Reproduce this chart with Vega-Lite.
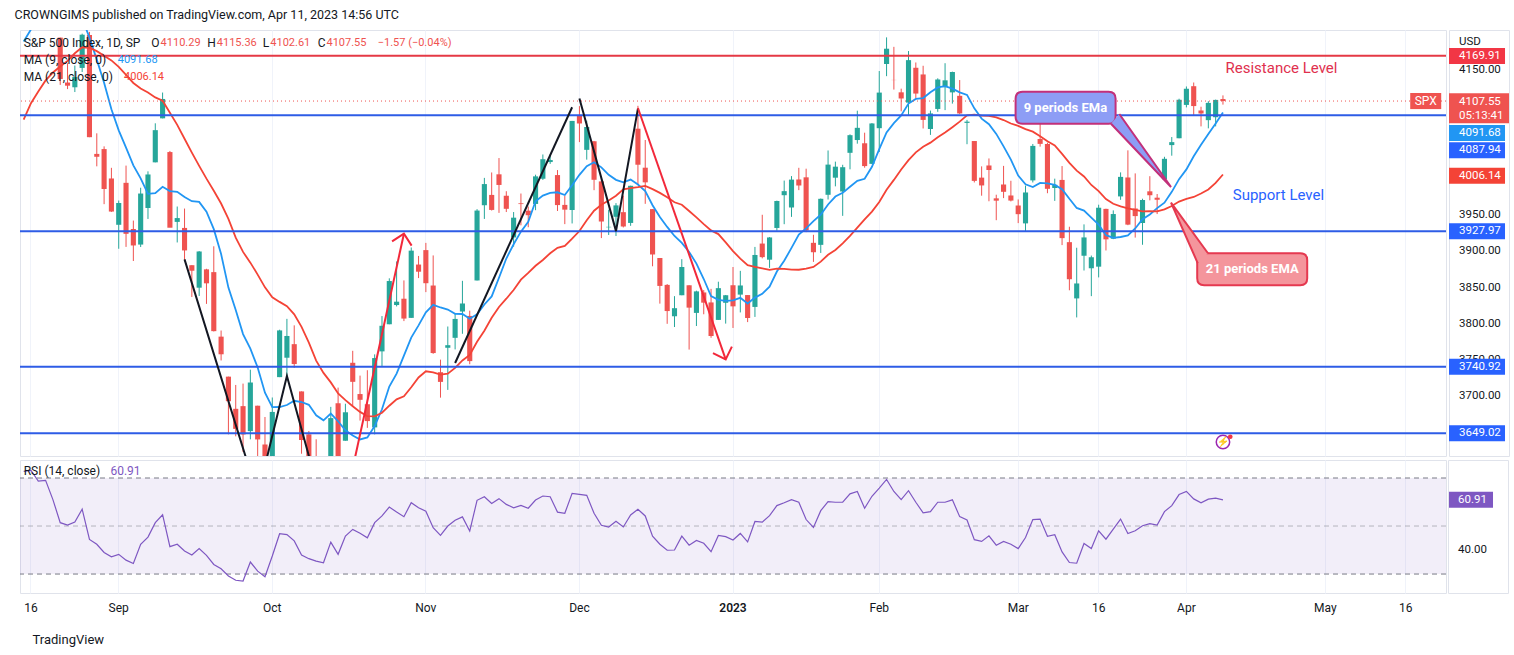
{
  "$schema": "https://vega.github.io/schema/vega-lite/v6.json",
  "title": {"text": "CROWNGIMS published on TradingView.com, Apr 11, 2023 14:56 UTC", "anchor": "start", "fontSize": 12.5, "fontWeight": 400, "color": "#131722", "offset": 8, "dx": -4},
  "padding": {"left": 14, "top": 9, "right": 14, "bottom": 5},
  "config": {
    "font": "Roboto",
    "view": {"stroke": "#e0e3eb", "strokeWidth": 1},
    "axis": {"gridColor": "#f0f3fa", "gridWidth": 1}
  },
  "datasets": {
    "px": [
      {"d":"2022-08-15","o":4269.37,"h":4301.79,"l":4256.9,"c":4297.14,"m9":4189.8,"m21":4082,"r":72.8},
      {"d":"2022-08-16","o":4290.46,"h":4325.28,"l":4277.77,"c":4305.2,"m9":4206.4,"m21":4104.5,"r":73.2},
      {"d":"2022-08-17","o":4280.4,"h":4302.18,"l":4253.08,"c":4274.04,"m9":4220,"m21":4120.6,"r":68.7},
      {"d":"2022-08-18","o":4273.13,"h":4292.53,"l":4261.98,"c":4283.74,"m9":4235.4,"m21":4136,"r":69},
      {"d":"2022-08-19","o":4266.31,"h":4266.31,"l":4218.7,"c":4228.48,"m9":4245.2,"m21":4146.9,"r":61},
      {"d":"2022-08-22","o":4195.08,"h":4195.08,"l":4129.86,"c":4137.99,"m9":4247,"m21":4155.3,"r":51.4},
      {"d":"2022-08-23","o":4133.09,"h":4159.77,"l":4124.03,"c":4128.73,"m9":4238,"m21":4163,"r":50.4},
      {"d":"2022-08-24","o":4126.55,"h":4156.56,"l":4119.97,"c":4140.77,"m9":4230.7,"m21":4173.5,"r":51.7},
      {"d":"2022-08-25","o":4153.26,"h":4200.54,"l":4147.59,"c":4199.12,"m9":4221.7,"m21":4181.8,"r":57},
      {"d":"2022-08-26","o":4198.74,"h":4203.04,"l":4057.66,"c":4057.66,"m9":4195.1,"m21":4181.1,"r":44.4},
      {"d":"2022-08-29","o":4034.58,"h":4062.99,"l":4017.42,"c":4030.61,"m9":4164.7,"m21":4176.4,"r":42.4},
      {"d":"2022-08-30","o":4041.25,"h":4044.98,"l":3965.21,"c":3986.16,"m9":4132.7,"m21":4170.1,"r":39},
      {"d":"2022-08-31","o":4000.67,"h":4015.37,"l":3954.53,"c":3955,"m9":4096.1,"m21":4163.6,"r":37.2},
      {"d":"2022-09-01","o":3936.73,"h":3970.23,"l":3903.65,"c":3966.85,"m9":4067.1,"m21":4154.7,"r":38.2},
      {"d":"2022-09-02","o":3994.66,"h":4018.43,"l":3906.21,"c":3924.26,"m9":4043.3,"m21":4143.8,"r":35.8},
      {"d":"2022-09-06","o":3930.89,"h":3942.55,"l":3886.75,"c":3908.19,"m9":4018.8,"m21":4132.5,"r":34.4},
      {"d":"2022-09-07","o":3909.43,"h":3987.89,"l":3906.03,"c":3979.87,"m9":4000.9,"m21":4124.9,"r":42.4},
      {"d":"2022-09-08","o":3959.94,"h":4010.5,"l":3944.81,"c":4006.18,"m9":3979.4,"m21":4119.4,"r":45.4},
      {"d":"2022-09-09","o":4022.94,"h":4076.81,"l":4022.94,"c":4067.36,"m9":3980.4,"m21":4112.6,"r":51.4},
      {"d":"2022-09-12","o":4083.67,"h":4119.28,"l":4083.67,"c":4110.41,"m9":3989.2,"m21":4108,"r":54.7},
      {"d":"2022-09-13","o":4037.12,"h":4038.63,"l":3933.46,"c":3932.69,"m9":3983.3,"m21":4091.4,"r":41.4},
      {"d":"2022-09-14","o":3940.73,"h":3961.94,"l":3912.35,"c":3946.01,"m9":3982.3,"m21":4074.7,"r":42.4},
      {"d":"2022-09-15","o":3932.41,"h":3959.14,"l":3888.28,"c":3901.35,"m9":3975,"m21":4055.5,"r":39.6},
      {"d":"2022-09-16","o":3880.95,"h":3880.95,"l":3837.08,"c":3873.33,"m9":3969.3,"m21":4036.4,"r":37.9},
      {"d":"2022-09-19","o":3849.91,"h":3900.45,"l":3838.5,"c":3899.89,"m9":3968.4,"m21":4018.1,"r":40.6},
      {"d":"2022-09-20","o":3875.23,"h":3876.01,"l":3827.54,"c":3855.93,"m9":3954.7,"m21":4000.4,"r":37.8},
      {"d":"2022-09-21","o":3871.4,"h":3907.07,"l":3789.49,"c":3789.93,"m9":3930.7,"m21":3983.8,"r":34},
      {"d":"2022-09-22","o":3782.36,"h":3790.8,"l":3749.45,"c":3757.99,"m9":3896.3,"m21":3966.1,"r":32.2},
      {"d":"2022-09-23","o":3727.14,"h":3727.14,"l":3647.47,"c":3693.23,"m9":3850,"m21":3944.8,"r":29.2},
      {"d":"2022-09-26","o":3682.72,"h":3715.67,"l":3644.76,"c":3655.04,"m9":3819.1,"m21":3919,"r":27.4},
      {"d":"2022-09-27","o":3686.44,"h":3717.53,"l":3623.29,"c":3647.29,"m9":3785.9,"m21":3899.3,"r":27.1},
      {"d":"2022-09-28","o":3651.94,"h":3736.74,"l":3640.61,"c":3719.04,"m9":3765.7,"m21":3884.5,"r":35},
      {"d":"2022-09-29","o":3687.01,"h":3687.01,"l":3610.4,"c":3640.47,"m9":3739.8,"m21":3868,"r":31.2},
      {"d":"2022-09-30","o":3633.48,"h":3671.44,"l":3584.13,"c":3585.62,"m9":3704.9,"m21":3850.4,"r":28.9},
      {"d":"2022-10-03","o":3609.78,"h":3698.35,"l":3604.93,"c":3678.43,"m9":3685.1,"m21":3836.7,"r":37.5},
      {"d":"2022-10-04","o":3726.46,"h":3791.92,"l":3726.46,"c":3790.93,"m9":3685.2,"m21":3830.3,"r":46.8},
      {"d":"2022-10-05","o":3753.25,"h":3806.91,"l":3722.66,"c":3783.28,"m9":3688,"m21":3824.4,"r":46.4},
      {"d":"2022-10-06","o":3771.97,"h":3797.93,"l":3739.22,"c":3744.52,"m9":3693.8,"m21":3813.2,"r":43.8},
      {"d":"2022-10-07","o":3706.74,"h":3706.74,"l":3620.73,"c":3639.66,"m9":3692.1,"m21":3795.8,"r":37.9},
      {"d":"2022-10-10","o":3647.51,"h":3652.17,"l":3588.1,"c":3612.39,"m9":3688.2,"m21":3774.1,"r":36.4},
      {"d":"2022-10-11","o":3595.86,"h":3640.66,"l":3568.45,"c":3588.84,"m9":3673.8,"m21":3749.3,"r":35.4},
      {"d":"2022-10-12","o":3590.83,"h":3608.34,"l":3573.86,"c":3577.03,"m9":3666.8,"m21":3732.3,"r":34.7},
      {"d":"2022-10-13","o":3520.37,"h":3685.41,"l":3491.58,"c":3669.91,"m9":3676.1,"m21":3719.2,"r":43.3},
      {"d":"2022-10-14","o":3690.41,"h":3712,"l":3579.68,"c":3583.07,"m9":3665.6,"m21":3704,"r":38.2},
      {"d":"2022-10-17","o":3638.65,"h":3689.73,"l":3638.65,"c":3677.95,"m9":3653,"m21":3694.8,"r":45.8},
      {"d":"2022-10-18","o":3746.26,"h":3762.79,"l":3686.53,"c":3719.98,"m9":3646,"m21":3686.2,"r":48.6},
      {"d":"2022-10-19","o":3703.11,"h":3728.58,"l":3666.51,"c":3695.16,"m9":3640.4,"m21":3678.5,"r":47},
      {"d":"2022-10-20","o":3689.05,"h":3736,"l":3656.44,"c":3665.78,"m9":3643.3,"m21":3672.6,"r":45.1},
      {"d":"2022-10-21","o":3657.1,"h":3757.89,"l":3647.42,"c":3752.75,"m9":3659,"m21":3672.4,"r":51.4},
      {"d":"2022-10-24","o":3762.01,"h":3810.74,"l":3741.65,"c":3797.34,"m9":3682.1,"m21":3677.3,"r":54.2},
      {"d":"2022-10-25","o":3799.44,"h":3862.85,"l":3799.44,"c":3859.11,"m9":3713.4,"m21":3687,"r":57.9},
      {"d":"2022-10-26","o":3825.97,"h":3886.15,"l":3824.07,"c":3830.6,"m9":3731.3,"m21":3695.8,"r":55.8},
      {"d":"2022-10-27","o":3834.69,"h":3859.95,"l":3803.79,"c":3807.3,"m9":3756.2,"m21":3700,"r":53.9},
      {"d":"2022-10-28","o":3808.26,"h":3905.42,"l":3808.26,"c":3901.06,"m9":3781,"m21":3712.4,"r":59.7},
      {"d":"2022-10-31","o":3881.85,"h":3893.73,"l":3863.18,"c":3871.98,"m9":3797.9,"m21":3726,"r":57.6},
      {"d":"2022-11-01","o":3901.79,"h":3911.79,"l":3843.8,"c":3856.1,"m9":3815.8,"m21":3734.5,"r":56.2},
      {"d":"2022-11-02","o":3852.9,"h":3894.44,"l":3758.68,"c":3759.69,"m9":3826.2,"m21":3733,"r":49.3},
      {"d":"2022-11-03","o":3733.25,"h":3750.59,"l":3698.15,"c":3719.89,"m9":3822.6,"m21":3730,"r":46.1},
      {"d":"2022-11-04","o":3766.98,"h":3796.34,"l":3708.84,"c":3770.55,"m9":3819.7,"m21":3731.3,"r":50},
      {"d":"2022-11-07","o":3780.71,"h":3813.95,"l":3764.7,"c":3806.8,"m9":3813.9,"m21":3739.2,"r":52.4},
      {"d":"2022-11-08","o":3817.02,"h":3859.4,"l":3786.28,"c":3828.11,"m9":3813.6,"m21":3749.5,"r":53.8},
      {"d":"2022-11-09","o":3810.94,"h":3818.2,"l":3744.22,"c":3748.57,"m9":3807.1,"m21":3757.1,"r":47.9},
      {"d":"2022-11-10","o":3859.89,"h":3958.33,"l":3859.89,"c":3956.37,"m9":3813.2,"m21":3775.2,"r":60.7},
      {"d":"2022-11-11","o":3963.72,"h":4001.48,"l":3944.82,"c":3992.93,"m9":3826.7,"m21":3790.6,"r":62.2},
      {"d":"2022-11-14","o":3977.97,"h":4008.97,"l":3956.4,"c":3957.25,"m9":3837.9,"m21":3808.4,"r":59.4},
      {"d":"2022-11-15","o":4006.41,"h":4028.84,"l":3953.17,"c":3991.73,"m9":3863.7,"m21":3823.3,"r":61.4},
      {"d":"2022-11-16","o":3976.82,"h":3983.09,"l":3954.34,"c":3958.79,"m9":3890.2,"m21":3834.7,"r":59},
      {"d":"2022-11-17","o":3919.26,"h":3954.33,"l":3906.54,"c":3946.56,"m9":3909.8,"m21":3846.7,"r":57.6},
      {"d":"2022-11-18","o":3966.39,"h":3979.89,"l":3935.98,"c":3965.34,"m9":3927.3,"m21":3861,"r":58.6},
      {"d":"2022-11-21","o":3956.23,"h":3962,"l":3933.34,"c":3949.94,"m9":3940.9,"m21":3870.3,"r":57.4},
      {"d":"2022-11-22","o":3965.51,"h":4005.88,"l":3956.88,"c":4003.58,"m9":3969.2,"m21":3880.2,"r":60.8},
      {"d":"2022-11-23","o":4000.3,"h":4033.78,"l":3998.66,"c":4027.26,"m9":3977.1,"m21":3888.2,"r":62.5},
      {"d":"2022-11-25","o":4023.34,"h":4034.02,"l":4020.76,"c":4026.12,"m9":3980.8,"m21":3897.5,"r":62.2},
      {"d":"2022-11-28","o":4005.36,"h":4012.27,"l":3955.77,"c":3963.94,"m9":3981.6,"m21":3905,"r":55.8},
      {"d":"2022-11-29","o":3964.19,"h":3976.77,"l":3937.65,"c":3957.63,"m9":3977.8,"m21":3907.7,"r":55.3},
      {"d":"2022-11-30","o":3957.18,"h":4080.11,"l":3938.58,"c":4080.11,"m9":3991.2,"m21":3917.6,"r":63.6},
      {"d":"2022-12-01","o":4087.14,"h":4100.51,"l":4050.87,"c":4076.57,"m9":4005.7,"m21":3928.1,"r":63.2},
      {"d":"2022-12-02","o":4040.17,"h":4080.48,"l":4026.63,"c":4071.7,"m9":4017.6,"m21":3943,"r":62.8},
      {"d":"2022-12-05","o":4052.02,"h":4052.45,"l":3984.49,"c":3998.84,"m9":4023,"m21":3956.2,"r":55.3},
      {"d":"2022-12-06","o":3996.63,"h":4001.51,"l":3918.39,"c":3941.26,"m9":4016,"m21":3964.3,"r":50.3},
      {"d":"2022-12-07","o":3933.28,"h":3957.57,"l":3922.68,"c":3933.92,"m9":4005.7,"m21":3970.4,"r":49.6},
      {"d":"2022-12-08","o":3947.79,"h":3966.64,"l":3921.27,"c":3963.51,"m9":3998.8,"m21":3976.9,"r":52},
      {"d":"2022-12-09","o":3954.17,"h":3977.02,"l":3933.04,"c":3934.38,"m9":3995.4,"m21":3985.7,"r":49.6},
      {"d":"2022-12-12","o":3939.29,"h":3990.71,"l":3935.3,"c":3990.56,"m9":3999.1,"m21":3987.3,"r":54.6},
      {"d":"2022-12-13","o":4069.38,"h":4100.96,"l":3993.03,"c":4019.65,"m9":3992.4,"m21":3988.6,"r":57},
      {"d":"2022-12-14","o":4015.54,"h":4053.76,"l":3965.65,"c":3995.32,"m9":3983.3,"m21":3990.4,"r":54.2},
      {"d":"2022-12-15","o":3958.37,"h":3958.37,"l":3879.45,"c":3895.75,"m9":3963.8,"m21":3985.9,"r":45.8},
      {"d":"2022-12-16","o":3890.91,"h":3890.91,"l":3827.91,"c":3852.36,"m9":3947.4,"m21":3980.8,"r":42.4},
      {"d":"2022-12-19","o":3853.79,"h":3854.86,"l":3800.04,"c":3817.66,"m9":3933.8,"m21":3974.6,"r":39.9},
      {"d":"2022-12-20","o":3810.47,"h":3838.24,"l":3795.62,"c":3821.62,"m9":3921.3,"m21":3967.8,"r":40},
      {"d":"2022-12-21","o":3839.49,"h":3889.28,"l":3839.49,"c":3878.44,"m9":3911.8,"m21":3964.4,"r":45.8},
      {"d":"2022-12-22","o":3853.26,"h":3853.26,"l":3764.49,"c":3822.39,"m9":3899.3,"m21":3955.7,"r":42},
      {"d":"2022-12-23","o":3815.11,"h":3845.8,"l":3797.01,"c":3844.82,"m9":3883.1,"m21":3947,"r":44},
      {"d":"2022-12-27","o":3843.34,"h":3846.65,"l":3813.22,"c":3829.25,"m9":3861.9,"m21":3937.7,"r":42.8},
      {"d":"2022-12-28","o":3829.56,"h":3848.32,"l":3780.78,"c":3783.22,"m9":3838.3,"m21":3929,"r":39.3},
      {"d":"2022-12-29","o":3805.45,"h":3858.19,"l":3805.45,"c":3849.28,"m9":3833.1,"m21":3923.9,"r":46.1},
      {"d":"2022-12-30","o":3829.06,"h":3839.85,"l":3800.34,"c":3839.5,"m9":3831.8,"m21":3912.4,"r":45.6},
      {"d":"2023-01-03","o":3853.29,"h":3878.46,"l":3794.33,"c":3824.14,"m9":3832.4,"m21":3900.4,"r":44.2},
      {"d":"2023-01-04","o":3840.36,"h":3873.16,"l":3815.77,"c":3852.97,"m9":3835.9,"m21":3890,"r":46.9},
      {"d":"2023-01-05","o":3839.74,"h":3839.74,"l":3802.42,"c":3808.1,"m9":3828.1,"m21":3880.9,"r":43.4},
      {"d":"2023-01-06","o":3823.37,"h":3906.19,"l":3809.56,"c":3895.08,"m9":3836.2,"m21":3878.7,"r":51.9},
      {"d":"2023-01-09","o":3910.82,"h":3950.57,"l":3890.42,"c":3892.09,"m9":3841.4,"m21":3876.7,"r":51.6},
      {"d":"2023-01-10","o":3888.57,"h":3919.83,"l":3877.29,"c":3919.25,"m9":3851.4,"m21":3874.5,"r":54.3},
      {"d":"2023-01-11","o":3932.35,"h":3970.07,"l":3928.54,"c":3969.61,"m9":3872.2,"m21":3876.2,"r":58.5},
      {"d":"2023-01-12","o":3977.57,"h":3997.76,"l":3937.56,"c":3983.17,"m9":3887.1,"m21":3875.9,"r":59.7},
      {"d":"2023-01-13","o":3960.6,"h":4003.95,"l":3947.67,"c":3999.09,"m9":3904.8,"m21":3874.9,"r":61},
      {"d":"2023-01-17","o":3999.28,"h":4015.39,"l":3984.57,"c":3990.97,"m9":3923.3,"m21":3874.7,"r":59.9},
      {"d":"2023-01-18","o":4002.25,"h":4014.16,"l":3926.59,"c":3928.86,"m9":3931.8,"m21":3876.2,"r":52.7},
      {"d":"2023-01-19","o":3911.84,"h":3922.94,"l":3885.54,"c":3898.85,"m9":3941.9,"m21":3878.5,"r":49.4},
      {"d":"2023-01-20","o":3909.04,"h":3972.96,"l":3897.86,"c":3972.61,"m9":3950.6,"m21":3885.9,"r":56.4},
      {"d":"2023-01-23","o":3978.14,"h":4039.31,"l":3971.64,"c":4019.81,"m9":3964.8,"m21":3895.3,"r":60.2},
      {"d":"2023-01-24","o":4001.74,"h":4023.92,"l":3989.79,"c":4016.95,"m9":3975.7,"m21":3901.9,"r":59.9},
      {"d":"2023-01-25","o":3982.71,"h":4019.55,"l":3949.06,"c":4016.22,"m9":3980.8,"m21":3911.1,"r":59.9},
      {"d":"2023-01-26","o":4036.08,"h":4061.57,"l":4013.29,"c":4060.43,"m9":3989.3,"m21":3921.4,"r":63.4},
      {"d":"2023-01-27","o":4053.72,"h":4094.21,"l":4048.7,"c":4070.56,"m9":3997.3,"m21":3932.9,"r":64.4},
      {"d":"2023-01-30","o":4049.27,"h":4063.85,"l":4015.55,"c":4017.77,"m9":4000.3,"m21":3944.1,"r":57.4},
      {"d":"2023-01-31","o":4020.85,"h":4077.16,"l":4020.44,"c":4076.6,"m9":4016.8,"m21":3955,"r":62.4},
      {"d":"2023-02-01","o":4070.07,"h":4148.95,"l":4037.2,"c":4119.21,"m9":4041.2,"m21":3968.2,"r":65.8},
      {"d":"2023-02-02","o":4158.68,"h":4195.44,"l":4141.88,"c":4179.76,"m9":4064.2,"m21":3985.2,"r":69.4},
      {"d":"2023-02-03","o":4136.69,"h":4182.36,"l":4123.36,"c":4136.48,"m9":4077.1,"m21":3998.7,"r":64.4},
      {"d":"2023-02-06","o":4119.57,"h":4124.63,"l":4093.38,"c":4111.08,"m9":4087.6,"m21":4013.1,"r":61},
      {"d":"2023-02-07","o":4105.35,"h":4176.54,"l":4088.39,"c":4164,"m9":4104,"m21":4025.9,"r":64.7},
      {"d":"2023-02-08","o":4153.47,"h":4160.77,"l":4111.35,"c":4117.86,"m9":4110.4,"m21":4036.7,"r":59.9},
      {"d":"2023-02-09","o":4144.25,"h":4156.23,"l":4069.67,"c":4081.5,"m9":4111.7,"m21":4044.4,"r":55.5},
      {"d":"2023-02-10","o":4068.92,"h":4094.36,"l":4060.79,"c":4090.46,"m9":4119.7,"m21":4050.1,"r":56},
      {"d":"2023-02-13","o":4096.62,"h":4138.9,"l":4092.67,"c":4137.29,"m9":4126.3,"m21":4057.5,"r":59.9},
      {"d":"2023-02-14","o":4126.7,"h":4159.77,"l":4095.01,"c":4136.13,"m9":4128.2,"m21":4064,"r":59.9},
      {"d":"2023-02-15","o":4119.5,"h":4148.11,"l":4103.98,"c":4147.6,"m9":4124.7,"m21":4071.5,"r":60.9},
      {"d":"2023-02-16","o":4114.75,"h":4136.54,"l":4089.49,"c":4090.41,"m9":4119.6,"m21":4079.1,"r":53.9},
      {"d":"2023-02-17","o":4077.39,"h":4081.51,"l":4047.95,"c":4079.09,"m9":4116,"m21":4087.7,"r":52.5},
      {"d":"2023-02-21","o":4052.35,"h":4052.35,"l":3995.19,"c":3997.34,"m9":4097.4,"m21":4088.9,"r":44.3},
      {"d":"2023-02-22","o":4001.83,"h":4017.37,"l":3976.9,"c":3991.05,"m9":4083.3,"m21":4087.5,"r":43.6},
      {"d":"2023-02-23","o":4018.6,"h":4028.3,"l":3969.19,"c":4012.32,"m9":4075.6,"m21":4087.2,"r":45.9},
      {"d":"2023-02-24","o":3973.24,"h":3978.25,"l":3943.08,"c":3970.04,"m9":4062.2,"m21":4085,"r":42},
      {"d":"2023-02-27","o":3992.36,"h":4018.05,"l":3973.55,"c":3982.24,"m9":4045,"m21":4081.3,"r":43.6},
      {"d":"2023-02-28","o":3977.19,"h":3997.5,"l":3968.98,"c":3970.15,"m9":4026.6,"m21":4076.5,"r":42.4},
      {"d":"2023-03-01","o":3963.34,"h":3971.73,"l":3939.05,"c":3951.39,"m9":4004.7,"m21":4073.3,"r":40.6},
      {"d":"2023-03-02","o":3938.68,"h":3990.84,"l":3928.16,"c":3981.35,"m9":3992.6,"m21":4068.8,"r":45.2},
      {"d":"2023-03-03","o":3998.02,"h":4048.29,"l":3995.17,"c":4045.64,"m9":3988.9,"m21":4065.3,"r":52.7},
      {"d":"2023-03-06","o":4055.15,"h":4078.49,"l":4044.61,"c":4048.42,"m9":3994.6,"m21":4059,"r":52.9},
      {"d":"2023-03-07","o":4048.26,"h":4050,"l":3980.31,"c":3986.37,"m9":3994,"m21":4051.9,"r":45.7},
      {"d":"2023-03-08","o":3987.55,"h":4000.41,"l":3969.76,"c":3992.01,"m9":3991.8,"m21":4046.2,"r":46.4},
      {"d":"2023-03-09","o":3998.66,"h":4017.81,"l":3908.7,"c":3918.32,"m9":3986,"m21":4034.5,"r":39.2},
      {"d":"2023-03-10","o":3912.77,"h":3934.05,"l":3846.32,"c":3861.59,"m9":3972.7,"m21":4022.3,"r":34.8},
      {"d":"2023-03-13","o":3835.12,"h":3905.05,"l":3808.86,"c":3855.76,"m9":3960,"m21":4011.5,"r":34.5},
      {"d":"2023-03-14","o":3894.01,"h":3937.29,"l":3873.63,"c":3919.29,"m9":3956.4,"m21":4003.4,"r":42.7},
      {"d":"2023-03-15","o":3876.74,"h":3894.26,"l":3838.24,"c":3891.93,"m9":3946.6,"m21":3991.7,"r":40.6},
      {"d":"2023-03-16","o":3878.93,"h":3964.46,"l":3864.11,"c":3960.28,"m9":3937,"m21":3983.3,"r":48},
      {"d":"2023-03-17","o":3958.69,"h":3958.91,"l":3901.27,"c":3916.64,"m9":3922.4,"m21":3972.3,"r":44.5},
      {"d":"2023-03-20","o":3917.47,"h":3956.62,"l":3916.89,"c":3951.57,"m9":3918.7,"m21":3965.8,"r":48.7},
      {"d":"2023-03-21","o":3975.89,"h":4009.08,"l":3971.19,"c":4002.87,"m9":3919.9,"m21":3962.1,"r":52.9},
      {"d":"2023-03-22","o":4002.04,"h":4039.49,"l":3936.17,"c":3936.97,"m9":3922,"m21":3959.3,"r":46.9},
      {"d":"2023-03-23","o":3959.21,"h":4007.66,"l":3919.05,"c":3948.72,"m9":3931.7,"m21":3957.3,"r":48},
      {"d":"2023-03-24","o":3939.21,"h":3972.74,"l":3909.16,"c":3970.99,"m9":3944.4,"m21":3955.3,"r":50.1},
      {"d":"2023-03-27","o":3982.93,"h":4003.83,"l":3970.49,"c":3977.53,"m9":3951,"m21":3955.7,"r":51},
      {"d":"2023-03-28","o":3974.13,"h":3979.2,"l":3951.53,"c":3971.27,"m9":3959.8,"m21":3955.2,"r":50.4},
      {"d":"2023-03-29","o":3999.53,"h":4030.59,"l":3999.53,"c":4027.81,"m9":3967.3,"m21":3958,"r":56},
      {"d":"2023-03-30","o":4046.74,"h":4057.85,"l":4032.1,"c":4050.83,"m9":3982.2,"m21":3962.7,"r":58.5},
      {"d":"2023-03-31","o":4056.18,"h":4110.75,"l":4056.18,"c":4109.31,"m9":3999.7,"m21":3968.8,"r":63.1},
      {"d":"2023-04-03","o":4102.2,"h":4127.66,"l":4098.79,"c":4124.51,"m9":4013.2,"m21":3972.6,"r":64.4},
      {"d":"2023-04-04","o":4128.03,"h":4133.13,"l":4086.87,"c":4100.6,"m9":4031.4,"m21":3975.1,"r":61.3},
      {"d":"2023-04-05","o":4094.5,"h":4099.69,"l":4072.56,"c":4090.38,"m9":4047.1,"m21":3980,"r":59.7},
      {"d":"2023-04-06","o":4081.15,"h":4107.32,"l":4069.84,"c":4105.02,"m9":4062,"m21":3985.4,"r":61.2},
      {"d":"2023-04-10","o":4085.2,"h":4109.5,"l":4072.55,"c":4109.11,"m9":4076.6,"m21":3994.5,"r":61.6},
      {"d":"2023-04-11","o":4110.29,"h":4115.36,"l":4102.61,"c":4107.55,"m9":4091.68,"m21":4006.14,"r":60.91}
    ]
  },
  "spacing": 2,
  "resolve": {"scale": {"x": "independent", "y": "independent"}},
  "vconcat": [
    {
      "spacing": 0,
      "resolve": {"scale": {"x": "independent", "y": "independent"}},
      "hconcat": [
        {
          "width": 1426,
          "height": 426,
          "layer": [
            {
              "data": {"name": "px"},
              "encoding": {"x": {"field": "d", "type": "ordinal", "scale": {"type": "band", "paddingInner": 0, "paddingOuter": 0, "domain": ["2022-08-15","2022-08-16","2022-08-17","2022-08-18","2022-08-19","2022-08-22","2022-08-23","2022-08-24","2022-08-25","2022-08-26","2022-08-29","2022-08-30","2022-08-31","2022-09-01","2022-09-02","2022-09-06","2022-09-07","2022-09-08","2022-09-09","2022-09-12","2022-09-13","2022-09-14","2022-09-15","2022-09-16","2022-09-19","2022-09-20","2022-09-21","2022-09-22","2022-09-23","2022-09-26","2022-09-27","2022-09-28","2022-09-29","2022-09-30","2022-10-03","2022-10-04","2022-10-05","2022-10-06","2022-10-07","2022-10-10","2022-10-11","2022-10-12","2022-10-13","2022-10-14","2022-10-17","2022-10-18","2022-10-19","2022-10-20","2022-10-21","2022-10-24","2022-10-25","2022-10-26","2022-10-27","2022-10-28","2022-10-31","2022-11-01","2022-11-02","2022-11-03","2022-11-04","2022-11-07","2022-11-08","2022-11-09","2022-11-10","2022-11-11","2022-11-14","2022-11-15","2022-11-16","2022-11-17","2022-11-18","2022-11-21","2022-11-22","2022-11-23","2022-11-25","2022-11-28","2022-11-29","2022-11-30","2022-12-01","2022-12-02","2022-12-05","2022-12-06","2022-12-07","2022-12-08","2022-12-09","2022-12-12","2022-12-13","2022-12-14","2022-12-15","2022-12-16","2022-12-19","2022-12-20","2022-12-21","2022-12-22","2022-12-23","2022-12-27","2022-12-28","2022-12-29","2022-12-30","2023-01-03","2023-01-04","2023-01-05","2023-01-06","2023-01-09","2023-01-10","2023-01-11","2023-01-12","2023-01-13","2023-01-17","2023-01-18","2023-01-19","2023-01-20","2023-01-23","2023-01-24","2023-01-25","2023-01-26","2023-01-27","2023-01-30","2023-01-31","2023-02-01","2023-02-02","2023-02-03","2023-02-06","2023-02-07","2023-02-08","2023-02-09","2023-02-10","2023-02-13","2023-02-14","2023-02-15","2023-02-16","2023-02-17","2023-02-21","2023-02-22","2023-02-23","2023-02-24","2023-02-27","2023-02-28","2023-03-01","2023-03-02","2023-03-03","2023-03-06","2023-03-07","2023-03-08","2023-03-09","2023-03-10","2023-03-13","2023-03-14","2023-03-15","2023-03-16","2023-03-17","2023-03-20","2023-03-21","2023-03-22","2023-03-23","2023-03-24","2023-03-27","2023-03-28","2023-03-29","2023-03-30","2023-03-31","2023-04-03","2023-04-04","2023-04-05","2023-04-06","2023-04-10","2023-04-11","2023-04-12","2023-04-13","2023-04-14","2023-04-17","2023-04-18","2023-04-19","2023-04-20","2023-04-21","2023-04-24","2023-04-25","2023-04-26","2023-04-27","2023-04-28","2023-05-01","2023-05-02","2023-05-03","2023-05-04","2023-05-05","2023-05-08","2023-05-09","2023-05-10","2023-05-11","2023-05-12","2023-05-15","2023-05-16","2023-05-17","2023-05-18","2023-05-19","2023-05-22","2023-05-23"]},
                "axis": {"values": ["2022-08-16","2022-09-01","2022-10-03","2022-11-01","2022-12-01","2023-01-03","2023-02-01","2023-03-01","2023-03-16","2023-04-03","2023-05-01","2023-05-16"], "grid": true, "labels": false, "ticks": false, "domain": false, "title": null, "minExtent": 0, "maxExtent": 0, "bandPosition": 0.5}}},
              "layer": [
                {"mark": {"type": "rule", "clip": true, "strokeWidth": 1},
                 "encoding": {"y": {"field": "l", "type": "quantitative", "scale": {"domain": [3617.6, 4205.6], "nice": false, "zero": false}, "axis": {"values": [3650,3700,3750,3800,3850,3900,3950,4000,4050,4100,4150,4200], "grid": true, "labels": false, "ticks": false, "domain": false, "title": null, "minExtent": 0, "maxExtent": 0}},
                   "y2": {"field": "h"},
                   "color": {"condition": {"test": "datum.c >= datum.o", "value": "#26a69a"}, "value": "#ef5350"}}},
                {"mark": {"type": "bar", "clip": true, "width": {"band": 0.7}},
                 "encoding": {"y": {"field": "o", "type": "quantitative", "scale": {"domain": [3617.6, 4205.6], "nice": false, "zero": false}, "axis": null},
                   "y2": {"field": "c"},
                   "color": {"condition": {"test": "datum.c >= datum.o", "value": "#26a69a"}, "value": "#ef5350"}}},
                {"mark": {"type": "line", "clip": true, "color": "#2196f3", "strokeWidth": 1.8},
                 "encoding": {"y": {"field": "m9", "type": "quantitative", "scale": {"domain": [3617.6, 4205.6], "nice": false, "zero": false}, "axis": null}}},
                {"mark": {"type": "line", "clip": true, "color": "#f44336", "strokeWidth": 1.8},
                 "encoding": {"y": {"field": "m21", "type": "quantitative", "scale": {"domain": [3617.6, 4205.6], "nice": false, "zero": false}, "axis": null}}}
              ]
            },
            {
              "data": {"values": [{"v": 4107.55}]},
              "mark": {"type": "rule", "color": "#ef5350", "strokeWidth": 1, "strokeDash": [1, 3]},
              "encoding": {"y": {"field": "v", "type": "quantitative", "scale": {"domain": [3617.6, 4205.6], "nice": false, "zero": false}, "axis": null}}
            },
            {
              "data": {"values": [{"v": 4169.91}]},
              "mark": {"type": "rule", "color": "#e53945", "strokeWidth": 2},
              "encoding": {"y": {"field": "v", "type": "quantitative", "scale": {"domain": [3617.6, 4205.6], "nice": false, "zero": false}, "axis": null}}
            },
            {
              "data": {"values": [{"v": 4087.94}, {"v": 3927.97}, {"v": 3740.92}, {"v": 3649.02}]},
              "mark": {"type": "rule", "color": "#2e5ce6", "strokeWidth": 2},
              "encoding": {"y": {"field": "v", "type": "quantitative", "scale": {"domain": [3617.6, 4205.6], "nice": false, "zero": false}, "axis": null}}
            },
            {
              "encoding": {"x": {"field": "d", "type": "ordinal", "scale": {"type": "band", "paddingInner": 0, "paddingOuter": 0, "domain": ["2022-08-15","2022-08-16","2022-08-17","2022-08-18","2022-08-19","2022-08-22","2022-08-23","2022-08-24","2022-08-25","2022-08-26","2022-08-29","2022-08-30","2022-08-31","2022-09-01","2022-09-02","2022-09-06","2022-09-07","2022-09-08","2022-09-09","2022-09-12","2022-09-13","2022-09-14","2022-09-15","2022-09-16","2022-09-19","2022-09-20","2022-09-21","2022-09-22","2022-09-23","2022-09-26","2022-09-27","2022-09-28","2022-09-29","2022-09-30","2022-10-03","2022-10-04","2022-10-05","2022-10-06","2022-10-07","2022-10-10","2022-10-11","2022-10-12","2022-10-13","2022-10-14","2022-10-17","2022-10-18","2022-10-19","2022-10-20","2022-10-21","2022-10-24","2022-10-25","2022-10-26","2022-10-27","2022-10-28","2022-10-31","2022-11-01","2022-11-02","2022-11-03","2022-11-04","2022-11-07","2022-11-08","2022-11-09","2022-11-10","2022-11-11","2022-11-14","2022-11-15","2022-11-16","2022-11-17","2022-11-18","2022-11-21","2022-11-22","2022-11-23","2022-11-25","2022-11-28","2022-11-29","2022-11-30","2022-12-01","2022-12-02","2022-12-05","2022-12-06","2022-12-07","2022-12-08","2022-12-09","2022-12-12","2022-12-13","2022-12-14","2022-12-15","2022-12-16","2022-12-19","2022-12-20","2022-12-21","2022-12-22","2022-12-23","2022-12-27","2022-12-28","2022-12-29","2022-12-30","2023-01-03","2023-01-04","2023-01-05","2023-01-06","2023-01-09","2023-01-10","2023-01-11","2023-01-12","2023-01-13","2023-01-17","2023-01-18","2023-01-19","2023-01-20","2023-01-23","2023-01-24","2023-01-25","2023-01-26","2023-01-27","2023-01-30","2023-01-31","2023-02-01","2023-02-02","2023-02-03","2023-02-06","2023-02-07","2023-02-08","2023-02-09","2023-02-10","2023-02-13","2023-02-14","2023-02-15","2023-02-16","2023-02-17","2023-02-21","2023-02-22","2023-02-23","2023-02-24","2023-02-27","2023-02-28","2023-03-01","2023-03-02","2023-03-03","2023-03-06","2023-03-07","2023-03-08","2023-03-09","2023-03-10","2023-03-13","2023-03-14","2023-03-15","2023-03-16","2023-03-17","2023-03-20","2023-03-21","2023-03-22","2023-03-23","2023-03-24","2023-03-27","2023-03-28","2023-03-29","2023-03-30","2023-03-31","2023-04-03","2023-04-04","2023-04-05","2023-04-06","2023-04-10","2023-04-11","2023-04-12","2023-04-13","2023-04-14","2023-04-17","2023-04-18","2023-04-19","2023-04-20","2023-04-21","2023-04-24","2023-04-25","2023-04-26","2023-04-27","2023-04-28","2023-05-01","2023-05-02","2023-05-03","2023-05-04","2023-05-05","2023-05-08","2023-05-09","2023-05-10","2023-05-11","2023-05-12","2023-05-15","2023-05-16","2023-05-17","2023-05-18","2023-05-19","2023-05-22","2023-05-23"]},
                "axis": {"values": ["2022-08-16","2022-09-01","2022-10-03","2022-11-01","2022-12-01","2023-01-03","2023-02-01","2023-03-01","2023-03-16","2023-04-03","2023-05-01","2023-05-16"], "grid": true, "labels": false, "ticks": false, "domain": false, "title": null, "minExtent": 0, "maxExtent": 0, "bandPosition": 0.5}}},
              "layer": [
                {"data": {"values": [
                  {"s": "w", "n": 1, "d": "2022-09-15", "p": 3889}, {"s": "w", "n": 2, "d": "2022-09-29", "p": 3563},
                  {"s": "w", "n": 3, "d": "2022-10-05", "p": 3728}, {"s": "w", "n": 4, "d": "2022-10-11", "p": 3581},
                  {"s": "a", "n": 1, "d": "2022-11-07", "p": 3746}, {"s": "a", "n": 2, "d": "2022-11-30", "p": 4099},
                  {"s": "b", "n": 1, "d": "2022-12-01", "p": 4111}, {"s": "b", "n": 2, "d": "2022-12-08", "p": 3928},
                  {"s": "b", "n": 3, "d": "2022-12-13", "p": 4097}]},
                 "mark": {"type": "line", "clip": true, "color": "#131722", "strokeWidth": 2},
                 "encoding": {"y": {"field": "p", "type": "quantitative", "scale": {"domain": [3617.6, 4205.6], "nice": false, "zero": false}, "axis": null},
                   "detail": {"field": "s", "type": "nominal"}, "order": {"field": "n", "type": "quantitative"}}},
                {"data": {"values": [
                  {"s": "u", "n": 1, "d": "2022-10-18", "p": 3601}, {"s": "u", "n": 2, "d": "2022-10-27", "p": 3924.4},
                  {"s": "v", "n": 1, "d": "2022-12-13", "p": 4098}, {"s": "v", "n": 2, "d": "2022-12-30", "p": 3751}]},
                 "mark": {"type": "line", "clip": true, "color": "#f2283a", "strokeWidth": 2},
                 "encoding": {"y": {"field": "p", "type": "quantitative", "scale": {"domain": [3617.6, 4205.6], "nice": false, "zero": false}, "axis": null},
                   "detail": {"field": "s", "type": "nominal"}, "order": {"field": "n", "type": "quantitative"}}},
                {"data": {"values": [{"d": "2022-10-27", "p": 3924.4}]},
                 "mark": {"type": "point", "shape": "M-1,1L0,0L1,1", "filled": false, "size": 400, "angle": 12, "stroke": "#f2283a", "strokeWidth": 2, "opacity": 1},
                 "encoding": {"y": {"field": "p", "type": "quantitative", "scale": {"domain": [3617.6, 4205.6], "nice": false, "zero": false}, "axis": null}}},
                {"data": {"values": [{"d": "2022-12-30", "p": 3751}]},
                 "mark": {"type": "point", "shape": "M-1,1L0,0L1,1", "filled": false, "size": 400, "angle": 161, "stroke": "#f2283a", "strokeWidth": 2, "opacity": 1},
                 "encoding": {"y": {"field": "p", "type": "quantitative", "scale": {"domain": [3617.6, 4205.6], "nice": false, "zero": false}, "axis": null}}},
                {"data": {"values": [{"d": "2023-03-10", "p": 4098.4}]},
                 "mark": {"type": "point", "shape": "M-0.936,-0.32L0.784,-0.32Q0.924,-0.32 0.924,-0.18L0.924,0.18Q0.924,0.32 0.784,0.32L-0.936,0.32Q-1.076,0.32 -1.076,0.18L-1.076,-0.18Q-1.076,-0.32 -0.936,-0.32Z", "size": 10000, "filled": true, "fill": "#8d9df5", "stroke": "#c2307a", "strokeWidth": 2, "opacity": 1},
                 "encoding": {"y": {"field": "p", "type": "quantitative", "scale": {"domain": [3617.6, 4205.6], "nice": false, "zero": false}, "axis": null}}},
                {"data": {"values": [{"d": "2023-03-24", "p": 4039.3}]},
                 "mark": {"type": "point", "shape": "M-0.863,-0.734L0.781,1L-0.636,-1", "size": 5329, "filled": true, "fill": "#8d9df5", "stroke": "#c2307a", "strokeWidth": 2, "opacity": 1},
                 "encoding": {"y": {"field": "p", "type": "quantitative", "scale": {"domain": [3617.6, 4205.6], "nice": false, "zero": false}, "axis": null}}},
                {"data": {"values": [{"d": "2023-03-10", "p": 4098.4, "t": "9 periods EMa"}]},
                 "mark": {"type": "text", "align": "center", "dx": -4, "fontSize": 13, "fontWeight": "bold", "color": "#ffffff"},
                 "encoding": {"y": {"field": "p", "type": "quantitative", "scale": {"domain": [3617.6, 4205.6], "nice": false, "zero": false}, "axis": null}, "text": {"field": "t", "type": "nominal"}}},
                {"data": {"values": [{"d": "2023-04-17", "p": 3875.4}]},
                 "mark": {"type": "point", "shape": "M-0.873,-0.29L0.873,-0.29Q1,-0.29 1,-0.163L1,0.163Q1,0.29 0.873,0.29L-0.873,0.29Q-1,0.29 -1,0.163L-1,-0.163Q-1,-0.29 -0.873,-0.29Z", "size": 12100, "filled": true, "fill": "#f4959c", "stroke": "#e53950", "strokeWidth": 2, "opacity": 1},
                 "encoding": {"y": {"field": "p", "type": "quantitative", "scale": {"domain": [3617.6, 4205.6], "nice": false, "zero": false}, "axis": null}}},
                {"data": {"values": [{"d": "2023-04-03", "p": 3925.6}]},
                 "mark": {"type": "point", "shape": "M0.374,1L-0.51,-1L0.715,0.675", "size": 3648, "filled": true, "fill": "#f4959c", "stroke": "#e53950", "strokeWidth": 2, "opacity": 1},
                 "encoding": {"y": {"field": "p", "type": "quantitative", "scale": {"domain": [3617.6, 4205.6], "nice": false, "zero": false}, "axis": null}}},
                {"data": {"values": [{"d": "2023-04-17", "p": 3875.4, "t": "21 periods EMA"}]},
                 "mark": {"type": "text", "align": "center", "fontSize": 13, "fontWeight": "bold", "color": "#ffffff"},
                 "encoding": {"y": {"field": "p", "type": "quantitative", "scale": {"domain": [3617.6, 4205.6], "nice": false, "zero": false}, "axis": null}, "text": {"field": "t", "type": "nominal"}}},
                {"data": {"values": [{"d": "2023-04-21", "p": 4152.8, "t": "Resistance Level"}]},
                 "mark": {"type": "text", "align": "center", "fontSize": 15, "color": "#e0304e"},
                 "encoding": {"y": {"field": "p", "type": "quantitative", "scale": {"domain": [3617.6, 4205.6], "nice": false, "zero": false}, "axis": null}, "text": {"field": "t", "type": "nominal"}}},
                {"data": {"values": [{"d": "2023-04-21", "p": 3977.4, "t": "Support Level"}]},
                 "mark": {"type": "text", "align": "center", "dx": -3, "fontSize": 15, "color": "#2962ff"},
                 "encoding": {"y": {"field": "p", "type": "quantitative", "scale": {"domain": [3617.6, 4205.6], "nice": false, "zero": false}, "axis": null}, "text": {"field": "t", "type": "nominal"}}},
                {"data": {"values": [
                  {"d": "2022-08-15", "p": 4187.7, "t": "S&P 500 Index, 1D, SP"},
                  {"d": "2022-08-15", "p": 4164.2, "t": "MA (9, close, 0)"},
                  {"d": "2022-08-15", "p": 4140.8, "t": "MA (21, close, 0)"}]},
                 "mark": {"type": "text", "align": "left", "dx": 0, "fontSize": 12, "color": "#131722"},
                 "encoding": {"y": {"field": "p", "type": "quantitative", "scale": {"domain": [3617.6, 4205.6], "nice": false, "zero": false}, "axis": null}, "text": {"field": "t", "type": "nominal"}}},
                {"data": {"values": [{"d": "2022-09-12", "p": 4187.7, "t": "O"}, {"d": "2022-10-03", "p": 4187.7, "t": "L"}]},
                 "mark": {"type": "text", "align": "right", "dx": -3, "fontSize": 12, "color": "#131722"},
                 "encoding": {"y": {"field": "p", "type": "quantitative", "scale": {"domain": [3617.6, 4205.6], "nice": false, "zero": false}, "axis": null}, "text": {"field": "t", "type": "nominal"}}},
                {"data": {"values": [{"d": "2022-09-21", "p": 4187.7, "t": "H"}, {"d": "2022-10-12", "p": 4187.7, "t": "C"}]},
                 "mark": {"type": "text", "align": "right", "dx": 2, "fontSize": 12, "color": "#131722"},
                 "encoding": {"y": {"field": "p", "type": "quantitative", "scale": {"domain": [3617.6, 4205.6], "nice": false, "zero": false}, "axis": null}, "text": {"field": "t", "type": "nominal"}}},
                {"data": {"values": [{"d": "2022-09-12", "p": 4187.7, "t": "4110.29"}, {"d": "2022-10-03", "p": 4187.7, "t": "4102.61"}]},
                 "mark": {"type": "text", "align": "left", "dx": -2, "fontSize": 11, "color": "#ef5350"},
                 "encoding": {"y": {"field": "p", "type": "quantitative", "scale": {"domain": [3617.6, 4205.6], "nice": false, "zero": false}, "axis": null}, "text": {"field": "t", "type": "nominal"}}},
                {"data": {"values": [{"d": "2022-09-21", "p": 4187.7, "t": "4115.36"}, {"d": "2022-10-12", "p": 4187.7, "t": "4107.55"}, {"d": "2022-10-21", "p": 4187.7, "t": "−1.57 (−0.04%)"}]},
                 "mark": {"type": "text", "align": "left", "dx": 3, "fontSize": 11, "color": "#ef5350"},
                 "encoding": {"y": {"field": "p", "type": "quantitative", "scale": {"domain": [3617.6, 4205.6], "nice": false, "zero": false}, "axis": null}, "text": {"field": "t", "type": "nominal"}}},
                {"data": {"values": [{"d": "2022-09-02", "p": 4140.8, "t": "4006.14"}]},
                 "mark": {"type": "text", "align": "left", "dx": -2, "fontSize": 11, "color": "#f44336"},
                 "encoding": {"y": {"field": "p", "type": "quantitative", "scale": {"domain": [3617.6, 4205.6], "nice": false, "zero": false}, "axis": null}, "text": {"field": "t", "type": "nominal"}}},
                {"data": {"values": [{"d": "2022-09-01", "p": 4164.2, "t": "4091.68"}]},
                 "mark": {"type": "text", "align": "left", "dx": -1, "fontSize": 11, "color": "#2196f3"},
                 "encoding": {"y": {"field": "p", "type": "quantitative", "scale": {"domain": [3617.6, 4205.6], "nice": false, "zero": false}, "axis": null}, "text": {"field": "t", "type": "nominal"}}},
                {"data": {"values": [{"d": "2023-05-19", "p": 4107.55, "t": "SPX"}]},
                 "mark": {"type": "point", "shape": "M-1.129,-0.52L0.871,-0.52L0.871,0.52L-1.129,0.52Z", "size": 961, "filled": true, "color": "#ef5350", "opacity": 1},
                 "encoding": {"y": {"field": "p", "type": "quantitative", "scale": {"domain": [3617.6, 4205.6], "nice": false, "zero": false}, "axis": null}}},
                {"data": {"values": [{"d": "2023-05-19", "p": 4107.55, "t": "SPX"}]},
                 "mark": {"type": "text", "align": "center", "dx": -2, "fontSize": 12, "color": "#ffffff"},
                 "encoding": {"y": {"field": "p", "type": "quantitative", "scale": {"domain": [3617.6, 4205.6], "nice": false, "zero": false}, "axis": null}, "text": {"field": "t", "type": "nominal"}}},
                {"data": {"values": [{"d": "2023-04-11", "p": 3636.9}]},
                 "mark": {"type": "point", "shape": "circle", "size": 180, "filled": false, "stroke": "#9c27b0", "strokeWidth": 1.5, "opacity": 1},
                 "encoding": {"y": {"field": "p", "type": "quantitative", "scale": {"domain": [3617.6, 4205.6], "nice": false, "zero": false}, "axis": null}}},
                {"data": {"values": [{"d": "2023-04-11", "p": 3636.9, "t": "⚡"}]},
                 "mark": {"type": "text", "align": "center", "fontSize": 10, "color": "#9c27b0"},
                 "encoding": {"y": {"field": "p", "type": "quantitative", "scale": {"domain": [3617.6, 4205.6], "nice": false, "zero": false}, "axis": null}, "text": {"field": "t", "type": "nominal"}}},
                {"data": {"values": [{"d": "2023-04-12", "p": 3644.2}]},
                 "mark": {"type": "point", "shape": "circle", "size": 22, "filled": true, "color": "#f23645", "opacity": 1},
                 "encoding": {"y": {"field": "p", "type": "quantitative", "scale": {"domain": [3617.6, 4205.6], "nice": false, "zero": false}, "axis": null}}}
              ]
            }
          ]
        },
        {
          "width": 60,
          "height": 426,
          "layer": [
            {"data": {"values": [{"v": 4150}, {"v": 3950}, {"v": 3900}, {"v": 3850}, {"v": 3800}, {"v": 3750}, {"v": 3700}]},
             "mark": {"type": "text", "align": "left", "dx": -20, "fontSize": 11.5, "color": "#131722"},
             "encoding": {"y": {"field": "v", "type": "quantitative", "scale": {"domain": [3617.6, 4205.6], "nice": false, "zero": false}, "axis": null},
               "text": {"field": "v", "type": "quantitative", "format": ".2f"}}},
            {"data": {"values": [{"v": 4189.1, "t": "USD"}]},
             "mark": {"type": "text", "align": "left", "dx": -20, "fontSize": 11.5, "color": "#131722"},
             "encoding": {"y": {"field": "v", "type": "quantitative", "scale": {"domain": [3617.6, 4205.6], "nice": false, "zero": false}, "axis": null},
               "text": {"field": "t", "type": "nominal"}}},
            {"data": {"values": [
              {"p": 4169.7, "t": "4169.91", "k": "a"}, {"p": 4063.4, "t": "4091.68", "k": "b"},
              {"p": 4039.7, "t": "4087.94", "k": "c"}, {"p": 4004.5, "t": "4006.14", "k": "d"},
              {"p": 3927.97, "t": "3927.97", "k": "c"}, {"p": 3740.92, "t": "3740.92", "k": "c"},
              {"p": 3649.02, "t": "3649.02", "k": "c"}]},
             "layer": [
               {"mark": {"type": "point", "shape": "M-1.071,-0.286L0.929,-0.286L0.929,0.286L-1.071,0.286Z", "size": 3136, "filled": true, "opacity": 1},
                "encoding": {"y": {"field": "p", "type": "quantitative", "scale": {"domain": [3617.6, 4205.6], "nice": false, "zero": false}, "axis": null},
                  "color": {"field": "k", "type": "nominal", "scale": {"domain": ["a", "b", "c", "d"], "range": ["#f23645", "#2196f3", "#2962ff", "#f44336"]}, "legend": null}}},
               {"mark": {"type": "text", "align": "left", "dx": -20, "fontSize": 11.5, "color": "#ffffff"},
                "encoding": {"y": {"field": "p", "type": "quantitative", "scale": {"domain": [3617.6, 4205.6], "nice": false, "zero": false}, "axis": null},
                  "text": {"field": "t", "type": "nominal"}}}
             ]},
            {"data": {"values": [{"p": 4097.5}]},
             "mark": {"type": "point", "shape": "M-1,-0.5L1,-0.5L1,0.5L-1,0.5Z", "size": 3600, "filled": true, "color": "#ef5350", "opacity": 1},
             "encoding": {"y": {"field": "p", "type": "quantitative", "scale": {"domain": [3617.6, 4205.6], "nice": false, "zero": false}, "axis": null}}},
            {"data": {"values": [{"p": 4106.7, "t": "4107.55"}, {"p": 4087.3, "t": "05:13:41"}]},
             "mark": {"type": "text", "align": "left", "dx": -20, "fontSize": 11.5, "color": "#ffffff"},
             "encoding": {"y": {"field": "p", "type": "quantitative", "scale": {"domain": [3617.6, 4205.6], "nice": false, "zero": false}, "axis": null},
               "text": {"field": "t", "type": "nominal"}}}
          ]
        }
      ]
    },
    {
      "spacing": 0,
      "resolve": {"scale": {"x": "independent", "y": "independent"}},
      "hconcat": [
        {
          "width": 1426,
          "height": 133,
          "layer": [
            {"data": {"values": [{"a": 70, "b": 30}]},
             "mark": {"type": "rect", "color": "#7e57c2", "opacity": 0.1},
             "encoding": {"y": {"field": "a", "type": "quantitative", "scale": {"domain": [22.1, 77.5], "nice": false, "zero": false}, "axis": {"values": [40, 60], "grid": true, "labels": false, "ticks": false, "domain": false, "title": null, "minExtent": 0, "maxExtent": 0}},
               "y2": {"field": "b"}}},
            {"data": {"values": [{"v": 70}, {"v": 30}]},
             "mark": {"type": "rule", "color": "#787b86", "strokeDash": [5, 4], "strokeWidth": 1},
             "encoding": {"y": {"field": "v", "type": "quantitative", "scale": {"domain": [22.1, 77.5], "nice": false, "zero": false}, "axis": null}}},
            {"data": {"values": [{"v": 50}]},
             "mark": {"type": "rule", "color": "#787b86", "strokeDash": [5, 4], "strokeWidth": 1, "opacity": 0.5},
             "encoding": {"y": {"field": "v", "type": "quantitative", "scale": {"domain": [22.1, 77.5], "nice": false, "zero": false}, "axis": null}}},
            {
              "encoding": {"x": {"field": "d", "type": "ordinal", "scale": {"type": "band", "paddingInner": 0, "paddingOuter": 0, "domain": ["2022-08-15","2022-08-16","2022-08-17","2022-08-18","2022-08-19","2022-08-22","2022-08-23","2022-08-24","2022-08-25","2022-08-26","2022-08-29","2022-08-30","2022-08-31","2022-09-01","2022-09-02","2022-09-06","2022-09-07","2022-09-08","2022-09-09","2022-09-12","2022-09-13","2022-09-14","2022-09-15","2022-09-16","2022-09-19","2022-09-20","2022-09-21","2022-09-22","2022-09-23","2022-09-26","2022-09-27","2022-09-28","2022-09-29","2022-09-30","2022-10-03","2022-10-04","2022-10-05","2022-10-06","2022-10-07","2022-10-10","2022-10-11","2022-10-12","2022-10-13","2022-10-14","2022-10-17","2022-10-18","2022-10-19","2022-10-20","2022-10-21","2022-10-24","2022-10-25","2022-10-26","2022-10-27","2022-10-28","2022-10-31","2022-11-01","2022-11-02","2022-11-03","2022-11-04","2022-11-07","2022-11-08","2022-11-09","2022-11-10","2022-11-11","2022-11-14","2022-11-15","2022-11-16","2022-11-17","2022-11-18","2022-11-21","2022-11-22","2022-11-23","2022-11-25","2022-11-28","2022-11-29","2022-11-30","2022-12-01","2022-12-02","2022-12-05","2022-12-06","2022-12-07","2022-12-08","2022-12-09","2022-12-12","2022-12-13","2022-12-14","2022-12-15","2022-12-16","2022-12-19","2022-12-20","2022-12-21","2022-12-22","2022-12-23","2022-12-27","2022-12-28","2022-12-29","2022-12-30","2023-01-03","2023-01-04","2023-01-05","2023-01-06","2023-01-09","2023-01-10","2023-01-11","2023-01-12","2023-01-13","2023-01-17","2023-01-18","2023-01-19","2023-01-20","2023-01-23","2023-01-24","2023-01-25","2023-01-26","2023-01-27","2023-01-30","2023-01-31","2023-02-01","2023-02-02","2023-02-03","2023-02-06","2023-02-07","2023-02-08","2023-02-09","2023-02-10","2023-02-13","2023-02-14","2023-02-15","2023-02-16","2023-02-17","2023-02-21","2023-02-22","2023-02-23","2023-02-24","2023-02-27","2023-02-28","2023-03-01","2023-03-02","2023-03-03","2023-03-06","2023-03-07","2023-03-08","2023-03-09","2023-03-10","2023-03-13","2023-03-14","2023-03-15","2023-03-16","2023-03-17","2023-03-20","2023-03-21","2023-03-22","2023-03-23","2023-03-24","2023-03-27","2023-03-28","2023-03-29","2023-03-30","2023-03-31","2023-04-03","2023-04-04","2023-04-05","2023-04-06","2023-04-10","2023-04-11","2023-04-12","2023-04-13","2023-04-14","2023-04-17","2023-04-18","2023-04-19","2023-04-20","2023-04-21","2023-04-24","2023-04-25","2023-04-26","2023-04-27","2023-04-28","2023-05-01","2023-05-02","2023-05-03","2023-05-04","2023-05-05","2023-05-08","2023-05-09","2023-05-10","2023-05-11","2023-05-12","2023-05-15","2023-05-16","2023-05-17","2023-05-18","2023-05-19","2023-05-22","2023-05-23"]},
                "axis": {"values": ["2022-08-16","2022-09-01","2022-10-03","2022-11-01","2022-12-01","2023-01-03","2023-02-01","2023-03-01","2023-03-16","2023-04-03","2023-05-01","2023-05-16"], "grid": true, "ticks": false, "domain": false, "bandPosition": 0.5, "labelAngle": 0, "labelOverlap": false, "labelFlush": false, "labelPadding": 9, "labelFontSize": 12, "labelColor": "#131722",
                  "labelExpr": "slice(datum.value,8,10)=='16' ? '16' : slice(datum.value,5,7)=='01' ? '2023' : ['','Jan','Feb','Mar','Apr','May','Jun','Jul','Aug','Sep','Oct','Nov','Dec'][toNumber(slice(datum.value,5,7))]",
                  "labelFontWeight": {"condition": {"test": "slice(datum.value,5,7)=='01'", "value": 600}, "value": 400},
                  "title": "TradingView", "titleAnchor": "start", "titleFontSize": 13, "titleFontWeight": 400, "titleColor": "#131722", "titlePadding": 20, "titleX": 12}}},
              "layer": [
                {"data": {"name": "px"},
                 "mark": {"type": "line", "color": "#7e57c2", "strokeWidth": 1.2},
                 "encoding": {"y": {"field": "r", "type": "quantitative", "scale": {"domain": [22.1, 77.5], "nice": false, "zero": false}, "axis": null}}},
                {"data": {"values": [{"d": "2022-08-15", "v": 72.9, "t": "RSI (14, close)"}]},
                 "mark": {"type": "text", "align": "left", "dx": 0, "fontSize": 12, "color": "#131722"},
                 "encoding": {"y": {"field": "v", "type": "quantitative", "scale": {"domain": [22.1, 77.5], "nice": false, "zero": false}, "axis": null}, "text": {"field": "t", "type": "nominal"}}},
                {"data": {"values": [{"d": "2022-08-31", "v": 72.9, "t": "60.91"}]},
                 "mark": {"type": "text", "align": "left", "dx": -1, "fontSize": 12, "color": "#7e57c2"},
                 "encoding": {"y": {"field": "v", "type": "quantitative", "scale": {"domain": [22.1, 77.5], "nice": false, "zero": false}, "axis": null}, "text": {"field": "t", "type": "nominal"}}}
              ]
            }
          ]
        },
        {
          "width": 60,
          "height": 133,
          "layer": [
            {"data": {"values": [{"v": 40}]},
             "mark": {"type": "text", "align": "left", "dx": -20, "fontSize": 11.5, "color": "#131722"},
             "encoding": {"y": {"field": "v", "type": "quantitative", "scale": {"domain": [22.1, 77.5], "nice": false, "zero": false}, "axis": null},
               "text": {"field": "v", "type": "quantitative", "format": ".2f"}}},
            {"data": {"values": [{"p": 60.91}]},
             "mark": {"type": "point", "shape": "M-1.318,-0.364L0.682,-0.364L0.682,0.364L-1.318,0.364Z", "size": 1936, "filled": true, "color": "#7e57c2", "opacity": 1},
             "encoding": {"y": {"field": "p", "type": "quantitative", "scale": {"domain": [22.1, 77.5], "nice": false, "zero": false}, "axis": null}}},
            {"data": {"values": [{"p": 60.91, "t": "60.91"}]},
             "mark": {"type": "text", "align": "left", "dx": -20, "fontSize": 11.5, "color": "#ffffff"},
             "encoding": {"y": {"field": "p", "type": "quantitative", "scale": {"domain": [22.1, 77.5], "nice": false, "zero": false}, "axis": null},
               "text": {"field": "t", "type": "nominal"}}}
          ]
        }
      ]
    }
  ]
}
